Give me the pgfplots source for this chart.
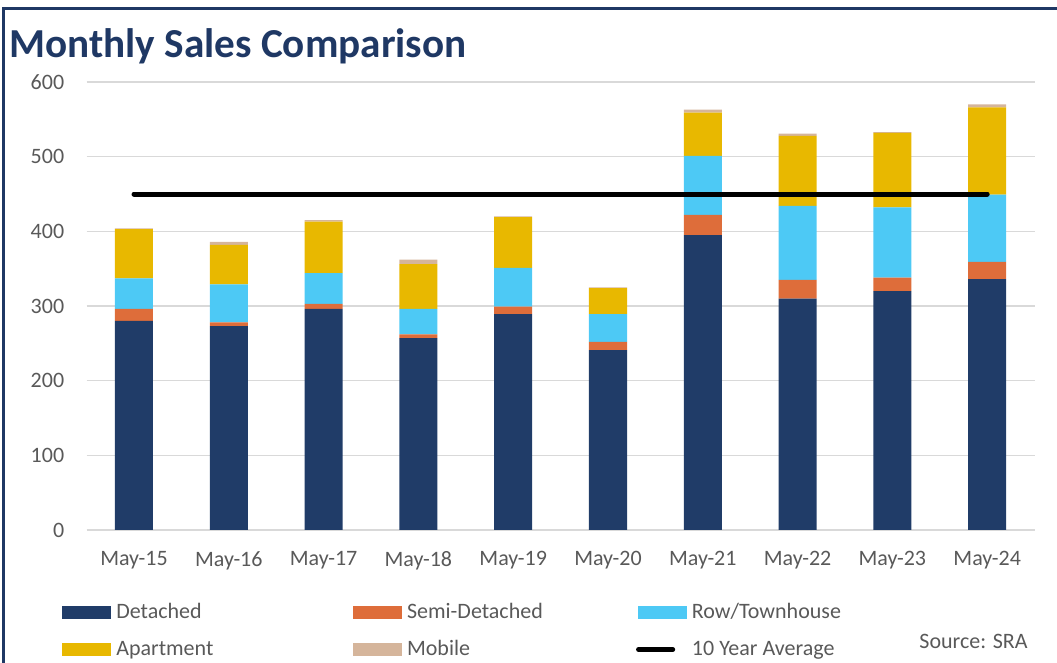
\documentclass[border=0pt]{standalone}
\usepackage{pgfplots}
\pgfplotsset{compat=1.18}
\usepackage{fontspec}
\setmainfont{Carlito}
\definecolor{navy}{HTML}{1F3864}
\definecolor{cdet}{HTML}{203C68}
\definecolor{csemi}{HTML}{DE6D3A}
\definecolor{crow}{HTML}{4DC9F5}
\definecolor{capt}{HTML}{E8B800}
\definecolor{cmob}{HTML}{D5B59B}
\definecolor{gridgray}{HTML}{D9D9D9}
\definecolor{txtgray}{HTML}{595959}
\begin{document}
\begin{tikzpicture}
\path[use as bounding box] (0pt,0pt) rectangle (528.5pt,331.5pt);
\draw[navy, line width=1.5pt] (528.5pt,327.25pt) -- (1.75pt,327.25pt) -- (1.75pt,0pt);
\node[anchor=base west, inner sep=0pt, text=navy, font=\fontsize{20.6}{24}\selectfont\bfseries] at (4.5pt,302.5pt) {Monthly Sales Comparison};
\node[anchor=base east, inner sep=0pt, text=txtgray, font=\fontsize{11}{13}\selectfont] at (514pt,7pt) {Source: SRA};
\pgfplotsset{
  common/.style={
    at={(43.3pt,66.5pt)}, anchor=south west,
    scale only axis, width=474pt, height=224pt,
    xmin=-0.5, xmax=9.5, ymin=0, ymax=600,
    axis line style={draw=none},
    major tick length=0pt,
    /pgf/number format/assume math mode=true,
    tick label style={font=\fontsize{11}{13}\selectfont, text=txtgray, inner sep=0pt},
  }
}
\begin{axis}[common,
  ybar stacked, bar width=19pt,
  ytick={0,100,200,300,400,500,600},
  ymajorgrids, grid style={draw=gridgray, line width=0.8pt},
  xtick={0,...,9},
  xticklabels={May-15,May-16,May-17,May-18,May-19,May-20,May-21,May-22,May-23,May-24},
  yticklabel style={anchor=east, xshift=-11pt},
  xticklabel style={anchor=north, yshift=-10.5pt},
]
\addplot[fill=cdet, draw=none] coordinates {(0,280)(1,273)(2,296)(3,257)(4,289)(5,241)(6,395)(7,310)(8,320)(9,336)};
\addplot[fill=csemi, draw=none] coordinates {(0,16)(1,5)(2,7)(3,5)(4,10)(5,11)(6,27)(7,25)(8,18)(9,23)};
\addplot[fill=crow, draw=none] coordinates {(0,41)(1,51)(2,41)(3,34)(4,52)(5,37)(6,79)(7,99)(8,94)(9,90)};
\addplot[fill=capt, draw=none] coordinates {(0,66)(1,53)(2,69)(3,60)(4,68)(5,35)(6,58)(7,94)(8,100)(9,117)};
\addplot[fill=cmob, draw=none] coordinates {(0,1)(1,4)(2,2)(3,6)(4,1)(5,1)(6,4)(7,3)(8,1)(9,4)};
\end{axis}
\begin{axis}[common,
  xtick=\empty, ytick=\empty,
  legend columns=3,
  legend style={draw=none, fill=none, at={(-0.0322,-0.152)}, anchor=north west,
    font=\fontsize{11}{13}\selectfont, text=txtgray,
    nodes={inner sep=0pt, text height=8pt, text depth=2pt},
    /tikz/every odd column/.append style={column sep=2.5pt},
    /tikz/every even column/.append style={column sep=0pt},
    row sep=8.5pt},
  legend cell align=left,
]
\addlegendimage{legend image code/.code={\fill[cdet] (0pt,-3pt) rectangle (24pt,3pt);}}
\addlegendentry{\makebox[118.5pt][l]{Detached}}
\addlegendimage{legend image code/.code={\fill[csemi] (0pt,-3pt) rectangle (24pt,3pt);}}
\addlegendentry{\makebox[114.5pt][l]{Semi-Detached}}
\addlegendimage{legend image code/.code={\fill[crow] (0pt,-3pt) rectangle (24pt,3pt);}}
\addlegendentry{Row/Townhouse}
\addlegendimage{legend image code/.code={\fill[capt] (0pt,-3pt) rectangle (24pt,3pt);}}
\addlegendentry{\makebox[118.5pt][l]{Apartment}}
\addlegendimage{legend image code/.code={\fill[cmob] (0pt,-3pt) rectangle (24pt,3pt);}}
\addlegendentry{\makebox[114.5pt][l]{Mobile}}
\addplot[black, line width=2.5pt, line cap=round, mark=none] coordinates {(0,450)(9,450)};
\addlegendentry{10 Year Average}
\end{axis}
\end{tikzpicture}
\end{document}
